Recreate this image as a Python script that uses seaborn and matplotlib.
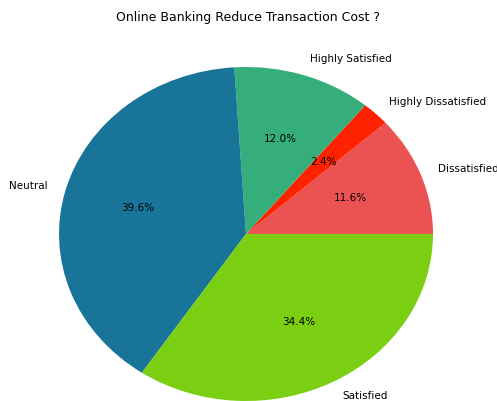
import matplotlib
matplotlib.use("Agg")
import matplotlib.pyplot as plt
import seaborn as sns

categories = ["Dissatisfied", "Highly Dissatisfied", "Highly Satisfied", "Neutral", "Satisfied"]
values = [11.6, 2.4, 12.0, 39.6, 34.4]
colors = ["#EB5353", "#FF2200", "#36AE7C", "#187498", "#7ACF12"]

sns.set_style("white")
fig = plt.figure(figsize=(4.97, 4.01), dpi=100)
ax = fig.add_axes([59/497, 0.0, 374/497, 334/401])
ax.pie(values, labels=categories, colors=colors, autopct="%1.1f%%",
       textprops={"fontsize": 7.5, "color": "black"}, startangle=0,
       wedgeprops={"linewidth": 0, "edgecolor": "none"})
ax.set_aspect("auto")
ax.set_xlim(-1, 1)
ax.set_ylim(-1, 1)
ax.axis("off")
fig.text(0.5, 1 - 17/401, "Online Banking Reduce Transaction Cost ?", ha="center", va="center",
         fontsize=9.0, color="black")
fig.savefig("out.png", dpi=100)
